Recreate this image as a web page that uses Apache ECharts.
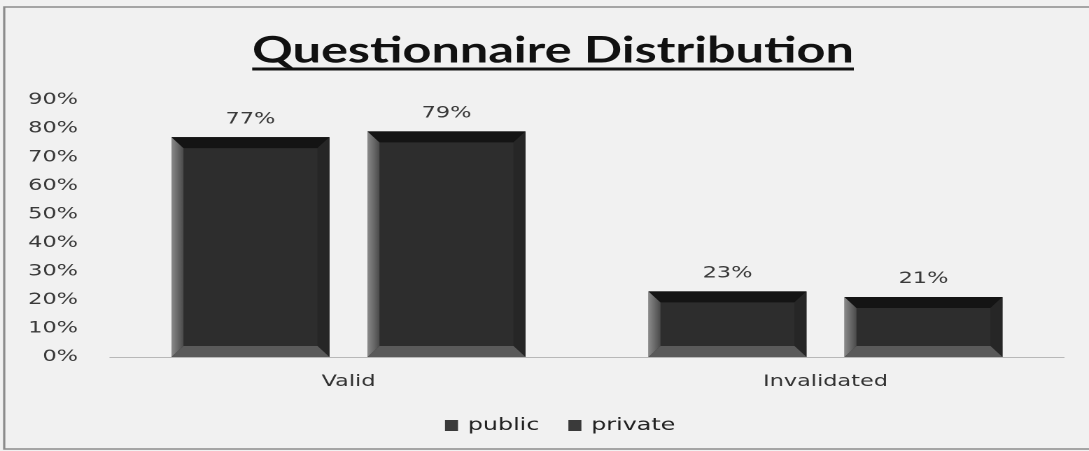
<!DOCTYPE html>
<html>
<head>
<meta charset="utf-8">
<script src="https://cdn.jsdelivr.net/npm/echarts@6/dist/echarts.min.js"></script>
<style>
  html, body { margin: 0; padding: 0; background: #f1f1f1; overflow: hidden; }
  /* the chart is laid out narrow and widened, giving the broad lettering of the print */
  #chart { width: 778px; height: 451px; transform: scaleX(1.3997); transform-origin: 0 0; }
</style>
</head>
<body>
<div id="chart"></div>
<script>
const titleText = 'Questionnaire Distribution';
const categories = ['Valid', 'Invalidated'];
const seriesNames = ['public', 'private'];
const publicValues = [77, 23];
const privateValues = [79, 21];
const yTicks = { min: 0, max: 90, interval: 10 };

const S = 1.3997;                       // horizontal widening factor
const TITLE_FONT = 'bold 36px Lato';
const LABEL_FONT = '"DejaVu Sans"';
const BAR_W = 158 / S;
const BAR_GAP = 38 / S;
const BEVEL_X = 12 / S;
const BEVEL_Y = 11;

// measure the title so the underline spans it exactly
const ctx = document.createElement('canvas').getContext('2d');
ctx.font = TITLE_FONT;
const titleWidth = ctx.measureText(titleText).width;
const titleCx = 553 / S;

function bevelBar(params, api) {
  const cat = api.value(0);
  const val = api.value(1);
  const base = api.coord([cat, 0]);
  const top = api.coord([cat, val]);
  const off = (params.seriesIndex === 0 ? -1 : 1) * (BAR_W + BAR_GAP) / 2;
  const x0 = base[0] + off - BAR_W / 2;
  const x1 = x0 + BAR_W;
  const y0 = top[1];
  const y1 = base[1];
  const bx = BEVEL_X;
  const by = Math.min(BEVEL_Y, (y1 - y0) / 3);
  return {
    type: 'group',
    children: [
      { type: 'rect', shape: { x: x0, y: y0, width: BAR_W, height: y1 - y0 },
        style: { fill: '#2d2d2d' } },
      { type: 'polygon', shape: { points: [[x0, y0], [x0 + bx, y0 + by], [x0 + bx, y1 - by], [x0, y1]] },
        style: { fill: new echarts.graphic.LinearGradient(0, 0, 1, 0, [
          { offset: 0, color: '#8a8a8a' }, { offset: 1, color: '#4a4a4a' }]) } },
      { type: 'polygon', shape: { points: [[x0, y0], [x1, y0], [x1 - bx, y0 + by], [x0 + bx, y0 + by]] },
        style: { fill: '#141414' } },
      { type: 'polygon', shape: { points: [[x1, y0], [x1, y1], [x1 - bx, y1 - by], [x1 - bx, y0 + by]] },
        style: { fill: '#262626' } },
      { type: 'polygon', shape: { points: [[x0, y1], [x1, y1], [x1 - bx, y1 - by], [x0 + bx, y1 - by]] },
        style: { fill: '#5a5a5a' } },
      { type: 'text', x: x0 + BAR_W / 2, y: y0 - 10,
        style: { text: val + '%', fill: '#3a3a3a', font: '16px ' + LABEL_FONT,
                 align: 'center', verticalAlign: 'bottom' } }
    ]
  };
}

const chart = echarts.init(document.getElementById('chart'), null, { renderer: 'canvas', devicePixelRatio: 2 });
chart.setOption({
  backgroundColor: '#f1f1f1',
  animation: false,
  grid: { left: 110 / S, right: 25 / S, top: 100, bottom: 94 },
  graphic: [
    { type: 'polyline', shape: { points: [[800, 7], [3, 7], [3, 449], [800, 449]] },
      style: { stroke: '#8c8c8c', lineWidth: 1.6, fill: null } },
    { type: 'text', x: titleCx, y: 51,
      style: { text: titleText, font: TITLE_FONT, fill: '#111', align: 'center', verticalAlign: 'middle' } },
    { type: 'line', shape: { x1: titleCx - titleWidth / 2, y1: 69, x2: titleCx + titleWidth / 2, y2: 69 },
      style: { stroke: '#111', lineWidth: 3 } }
  ],
  legend: {
    data: seriesNames,
    left: 445 / S, top: 417, padding: 0,
    icon: 'rect', itemWidth: 13 / S, itemHeight: 11, itemGap: 29 / S,
    textStyle: { fontFamily: LABEL_FONT, fontSize: 17, color: '#222', padding: [0, 0, 0, 2] }
  },
  xAxis: {
    type: 'category',
    data: categories,
    axisTick: { show: false },
    axisLine: { lineStyle: { color: '#b8b8b8', width: 1 } },
    axisLabel: { margin: 17, fontFamily: LABEL_FONT, fontSize: 16, color: '#333' }
  },
  yAxis: {
    type: 'value',
    min: yTicks.min, max: yTicks.max, interval: yTicks.interval,
    axisLine: { show: false },
    axisTick: { show: false },
    splitLine: { show: false },
    axisLabel: { margin: 32 / S, formatter: '{value}%', fontFamily: LABEL_FONT, fontSize: 16, color: '#3a3a3a' }
  },
  series: [
    { name: seriesNames[0], type: 'custom', renderItem: bevelBar,
      itemStyle: { color: '#3a3a3a' },
      data: publicValues.map((v, i) => [i, v]), encode: { x: 0, y: 1 } },
    { name: seriesNames[1], type: 'custom', renderItem: bevelBar,
      itemStyle: { color: '#3a3a3a' },
      data: privateValues.map((v, i) => [i, v]), encode: { x: 0, y: 1 } }
  ]
});
</script>
</body>
</html>
